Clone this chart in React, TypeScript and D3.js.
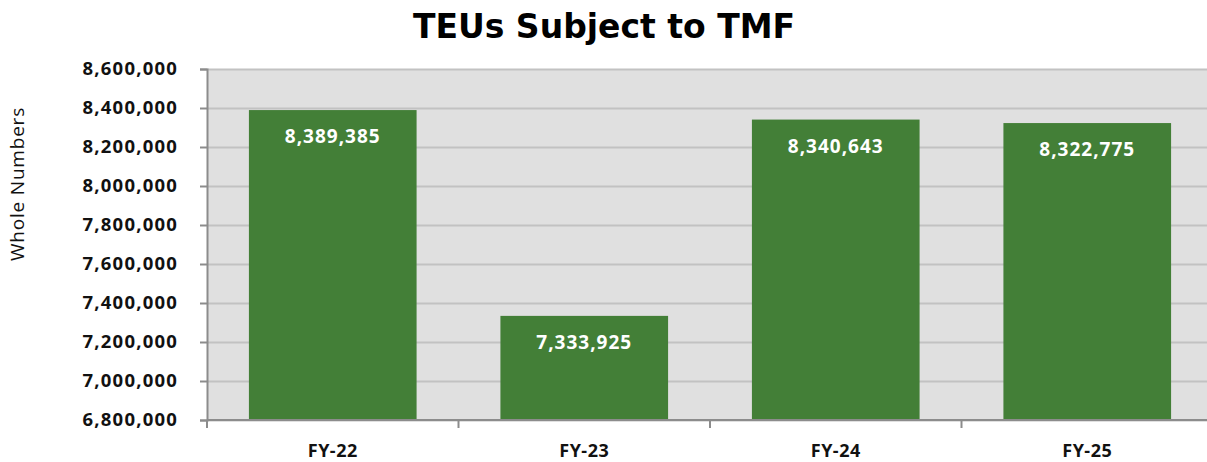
import * as d3 from "d3";
import { useEffect, useRef } from "react";

const categories = ["FY-22", "FY-23", "FY-24", "FY-25"];
const teus = [8389385, 7333925, 8340643, 8322775];
const yTicks = [6800000, 7000000, 7200000, 7400000, 7600000, 7800000, 8000000, 8200000, 8400000, 8600000];

const W = 1207;
const H = 462;

export default function App() {
  const ref = useRef<SVGSVGElement>(null);

  useEffect(() => {
    const svg = d3.select(ref.current);
    svg.selectAll("*").remove();

    // plot box (right edge runs a bit past the picture, like the original)
    const left = 207;
    const right = 1213;
    const top = 69;
    const bottom = 420;

    const x = d3.scaleBand().domain(categories).range([left, right]).paddingInner(1 / 3).paddingOuter(1 / 6);
    const y = d3.scaleLinear().domain([6800000, 8600000]).range([bottom, top]);
    const fmt = d3.format(",");

    svg.append("rect")
      .attr("x", left).attr("y", top)
      .attr("width", right - left).attr("height", bottom - top)
      .attr("fill", "#e0e0e0");

    // gridlines
    svg.append("g")
      .selectAll("line")
      .data(yTicks)
      .join("line")
      .attr("x1", left).attr("x2", right)
      .attr("y1", (d) => Math.round(y(d)) + 0.5)
      .attr("y2", (d) => Math.round(y(d)) + 0.5)
      .attr("stroke", "#c2c2c2")
      .attr("stroke-width", 2);

    // bars
    svg.append("g")
      .selectAll("rect")
      .data(teus)
      .join("rect")
      .attr("x", (_, i) => x(categories[i])!)
      .attr("width", x.bandwidth())
      .attr("y", (d) => y(d))
      .attr("height", (d) => bottom - y(d))
      .attr("fill", "#437f37");

    // value labels
    svg.append("g")
      .selectAll("text")
      .data(teus)
      .join("text")
      .attr("x", (_, i) => x(categories[i])! + x.bandwidth() / 2)
      .attr("y", (d) => y(d) + 33)
      .attr("text-anchor", "middle")
      .attr("fill", "#fff")
      .attr("font-family", "'Open Sans', sans-serif")
      .attr("font-weight", 700)
      .attr("font-size", 19)
      .attr("letter-spacing", 1)
      .text((d) => fmt(d));

    // y axis
    const yAxis = svg.append("g")
      .attr("transform", `translate(${left},0)`)
      .call(d3.axisLeft(y).tickValues(yTicks).tickSize(7).tickPadding(22).tickFormat((d) => fmt(d as number)));
    yAxis.select(".domain").attr("stroke", "#8c8c8c").attr("stroke-width", 2);
    yAxis.selectAll(".tick line").attr("stroke", "#8c8c8c").attr("stroke-width", 2);
    yAxis.selectAll("text")
      .attr("fill", "#111")
      .attr("font-family", "'Open Sans', sans-serif")
      .attr("font-weight", 700)
      .attr("font-size", 18.5)
      .attr("letter-spacing", 1.2);

    // x axis
    const xAxis = svg.append("g").attr("transform", `translate(0,${bottom})`);
    xAxis.append("line")
      .attr("x1", left).attr("x2", right)
      .attr("stroke", "#8c8c8c").attr("stroke-width", 2);
    xAxis.selectAll("line.sep")
      .data(d3.range(categories.length + 1))
      .join("line")
      .attr("class", "sep")
      .attr("x1", (i) => left + i * x.step())
      .attr("x2", (i) => left + i * x.step())
      .attr("y1", 0).attr("y2", 8)
      .attr("stroke", "#8c8c8c").attr("stroke-width", 2);
    xAxis.selectAll("text")
      .data(categories)
      .join("text")
      .attr("x", (d) => x(d)! + x.bandwidth() / 2)
      .attr("y", 37)
      .attr("text-anchor", "middle")
      .attr("fill", "#111")
      .attr("font-family", "'Open Sans', sans-serif")
      .attr("font-weight", 700)
      .attr("font-size", 18)
      .attr("letter-spacing", 0.5)
      .text((d) => d);

    // axis title
    svg.append("text")
      .attr("transform", `translate(24,184) rotate(-90)`)
      .attr("text-anchor", "middle")
      .attr("fill", "#111")
      .attr("font-family", "'Open Sans', sans-serif")
      .attr("font-size", 19)
      .attr("letter-spacing", 0.8)
      .text("Whole Numbers");

    // title
    svg.append("text")
      .attr("x", 604)
      .attr("y", 38)
      .attr("text-anchor", "middle")
      .attr("fill", "#000")
      .attr("font-family", "'DejaVu Sans', Verdana, sans-serif")
      .attr("font-weight", 700)
      .attr("font-size", 33)
      .text("TEUs Subject to TMF");
  }, []);

  return (
    <svg
      ref={ref}
      width={W}
      height={H}
      style={{ position: "absolute", left: 0, top: 0, background: "#fff" }}
    />
  );
}
